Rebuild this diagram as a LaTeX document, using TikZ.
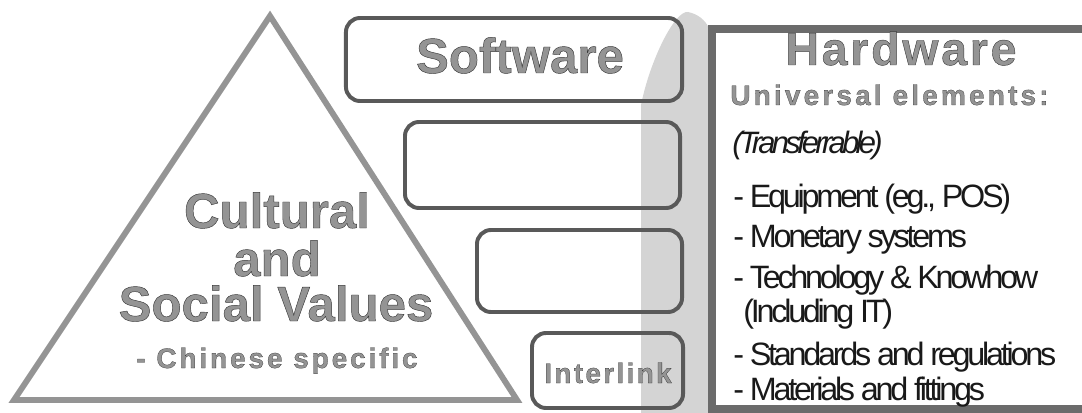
\documentclass[tikz,border=0pt]{standalone}
\usepackage{fontspec}
\setmainfont{Liberation Sans}
\newfontfamily\embossfont[FakeBold=0.9]{Liberation Sans Bold}
\usepackage{tikz}

% gray lettering, stroked with a darker rim
\newcommand{\emboss}[1]{\embossfont\special{pdf:code 0.22 G}#1}

\begin{document}
\begin{tikzpicture}[x=0.025cm,y=-0.025cm,
    roundbox/.style={draw=black!65,line width=2.8pt,rounded corners=10pt,inner sep=0pt},
    hwframe/.style={draw=black!58,line width=5.5pt,inner sep=0pt},
    bigtitle/.style={text=black!42,anchor=base,inner sep=0pt,font=\fontsize{35}{35}\selectfont},
    smalltitle/.style={text=black!42,anchor=base,inner sep=0pt,font=\fontsize{20}{20}\selectfont},
    item/.style={text=black!90,anchor=base west,inner sep=0pt,font=\fontsize{23}{23}\selectfont\addfontfeature{LetterSpace=-10}}]
  \useasboundingbox (0,0) rectangle (1082,413);
  \clip (0,0) rectangle (1082,413);

  % shadow strip in front of the hardware panel
  \fill[black!17] (641,413) -- (641,105) .. controls (650,60) and (675,10) .. (688,12)
     .. controls (698,14) and (705,20) .. (709,28) -- (709,413) -- cycle;

  % triangle
  \coordinate (apex) at (270,16);
  \coordinate (baseL) at (14,400);
  \coordinate (baseR) at (517,400);
  \draw[black!42,line width=4.2pt] (apex) -- (baseR) -- (baseL) -- cycle;

  \node[bigtitle] (cultural) at (277,228) {\emboss{Cultural}};
  \node[bigtitle] (and) at (277,276) {\emboss{and}};
  \node[bigtitle] (social) at (276,321) {\emboss{Social Values}};
  \node[smalltitle] (chinese) at (277,368) {\emboss{\addfontfeature{LetterSpace=10}- Chinese specific}};

  % software boxes
  \node[roundbox,minimum width=8.4cm,minimum height=2.075cm] (software) at (514,59.5) {};
  \node[roundbox,minimum width=6.875cm,minimum height=2.15cm] (blankA) at (542.5,165) {};
  \node[roundbox,minimum width=5.125cm,minimum height=2.05cm] (blankB) at (579.5,271) {};
  \node[roundbox,minimum width=3.775cm,minimum height=1.875cm] (interlink) at (607.5,370.5) {};

  \node[bigtitle] (swlabel) at (520,73) {\emboss{Software}};
  \node[smalltitle] (illabel) at (608,383) {\emboss{\addfontfeature{LetterSpace=8}Interlink}};

  % hardware panel
  \node[hwframe,minimum width=9.575cm,minimum height=9.5cm] (hardware) at (903.5,219) {};
  \node[bigtitle,font=\fontsize{33}{33}\selectfont] (hwlabel) at (901,65) {\emboss{\addfontfeature{LetterSpace=6}Hardware}};
  \node[smalltitle,anchor=base west] (universal) at (730,105) {\emboss{\addfontfeature{LetterSpace=11}Universal elements:}};
  \node[item,font=\itshape\fontsize{22}{22}\selectfont\addfontfeature{LetterSpace=-12}] (transfer) at (732,153) {(Transferrable)};
  \node[item] (equip) at (733,207) {- Equipment (eg., POS)};
  \node[item] (money) at (733,247) {- Monetary systems};
  \node[item] (tech) at (733,288) {- Technology \& Knowhow};
  \node[item] (incl) at (743,322) {(Including IT)};
  \node[item] (stand) at (733,365) {- Standards and regulations};
  \node[item] (mater) at (733,400) {- Materials and fittings};
\end{tikzpicture}
\end{document}
